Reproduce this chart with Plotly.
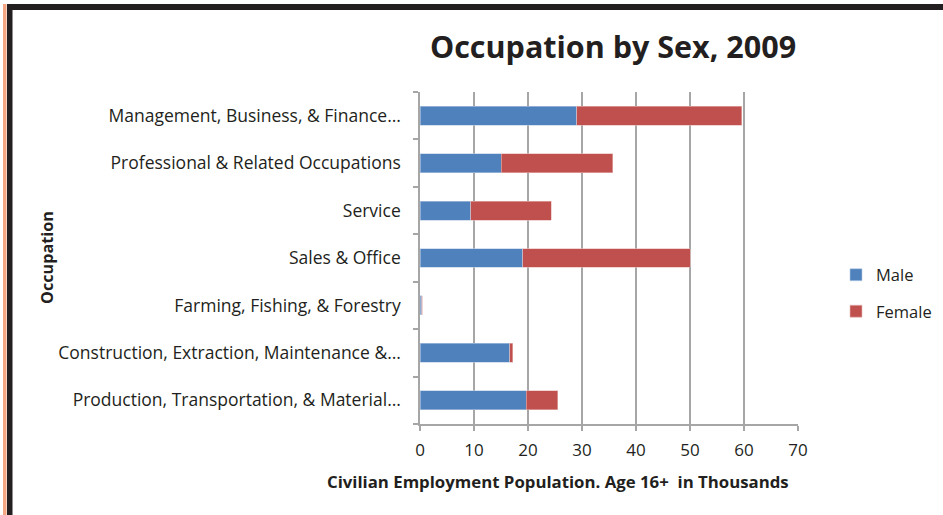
import plotly.graph_objects as go

categories = [
    "Production, Transportation, & Material…",
    "Construction, Extraction, Maintenance &…",
    "Farming, Fishing, & Forestry",
    "Sales & Office",
    "Service",
    "Professional & Related Occupations",
    "Management, Business, & Finance…",
]
male = [19.7, 16.6, 0.3, 19.0, 9.4, 15.0, 29.0]
female = [5.8, 0.6, 0.1, 31.0, 14.9, 20.7, 30.6]
x_ticks = [0, 10, 20, 30, 40, 50, 60, 70]

W, H = 943, 515
L, R, T, B = 420, 798, 92, 424
FONT = "Open Sans"
TXT = "#231F20"

fig = go.Figure()
fig.add_trace(go.Bar(y=categories, x=male, name="Male", orientation="h", legendgroup="m",
                     marker=dict(color="#4F81BD", line=dict(color="#B9CDE5", width=0.6))))
fig.add_trace(go.Bar(y=categories, x=female, name="Female", orientation="h", legendgroup="f",
                     marker=dict(color="#C0504D", line=dict(color="#E6B9B8", width=0.6))))

def px(x):
    return (x - L) / (R - L)

def py(y):
    return (B - y) / (B - T)

shapes = [
    dict(type="rect", xref="paper", yref="paper", x0=px(3), x1=px(6.5), y0=py(515), y1=py(4),
         fillcolor="#F4A582", line=dict(width=0), layer="above"),
    dict(type="rect", xref="paper", yref="paper", x0=px(7), x1=px(12.5), y0=py(515), y1=py(4),
         fillcolor="#231F20", line=dict(width=0), layer="above"),
    dict(type="rect", xref="paper", yref="paper", x0=px(7), x1=px(943), y0=py(10), y1=py(4),
         fillcolor="#231F20", line=dict(width=0), layer="above"),
]

annotations = [
    dict(text="<b>Civilian Employment Population. Age 16+  in Thousands</b>",
         xref="paper", yref="paper", x=px(558), y=py(481), xanchor="center", yanchor="middle",
         showarrow=False, font=dict(size=16.8, family=FONT, color=TXT)),
    dict(text="<b>Occupation</b>", textangle=-90,
         xref="paper", yref="paper", x=px(47), y=py(258), xanchor="center", yanchor="middle",
         showarrow=False, font=dict(size=16.2, family=FONT, color=TXT)),
]

fig.update_layout(
    width=W, height=H,
    barmode="stack", bargap=0.6,
    paper_bgcolor="white", plot_bgcolor="white",
    margin=dict(l=L, r=W - R, t=T, b=H - B, autoexpand=False),
    font=dict(family=FONT, color=TXT),
    title=dict(text="<b>Occupation by Sex, 2009</b>", xref="container", x=613 / W, xanchor="center",
               y=1 - 47 / H, yanchor="middle", font=dict(size=30.5, family=FONT, color=TXT)),
    xaxis=dict(range=[0, 70], tickvals=x_ticks, showgrid=True, gridcolor="#A6A6A6", gridwidth=1.5,
               showline=True, linecolor="#A6A6A6", linewidth=1.5, ticks="outside", ticklen=5,
               tickcolor="#A6A6A6", tickwidth=1.5, tickfont=dict(size=17), zeroline=False,
               automargin=False, ticklabelstandoff=5),
    yaxis=dict(showline=True, linecolor="#A6A6A6", linewidth=1.5, ticks="outside", ticklen=5,
               tickcolor="#A6A6A6", tickwidth=1.5, tickson="boundaries", tickfont=dict(size=17.5),
               automargin=False, ticklabelstandoff=14),
    legend=dict(x=px(836), y=py(293), xanchor="left", yanchor="middle", traceorder="grouped",
                font=dict(size=16.5), itemwidth=30, tracegroupgap=12),
    shapes=shapes,
    annotations=annotations,
)

fig.write_html("out.html", post_script="document.body.style.margin='0';",
               config={"displayModeBar": False})
